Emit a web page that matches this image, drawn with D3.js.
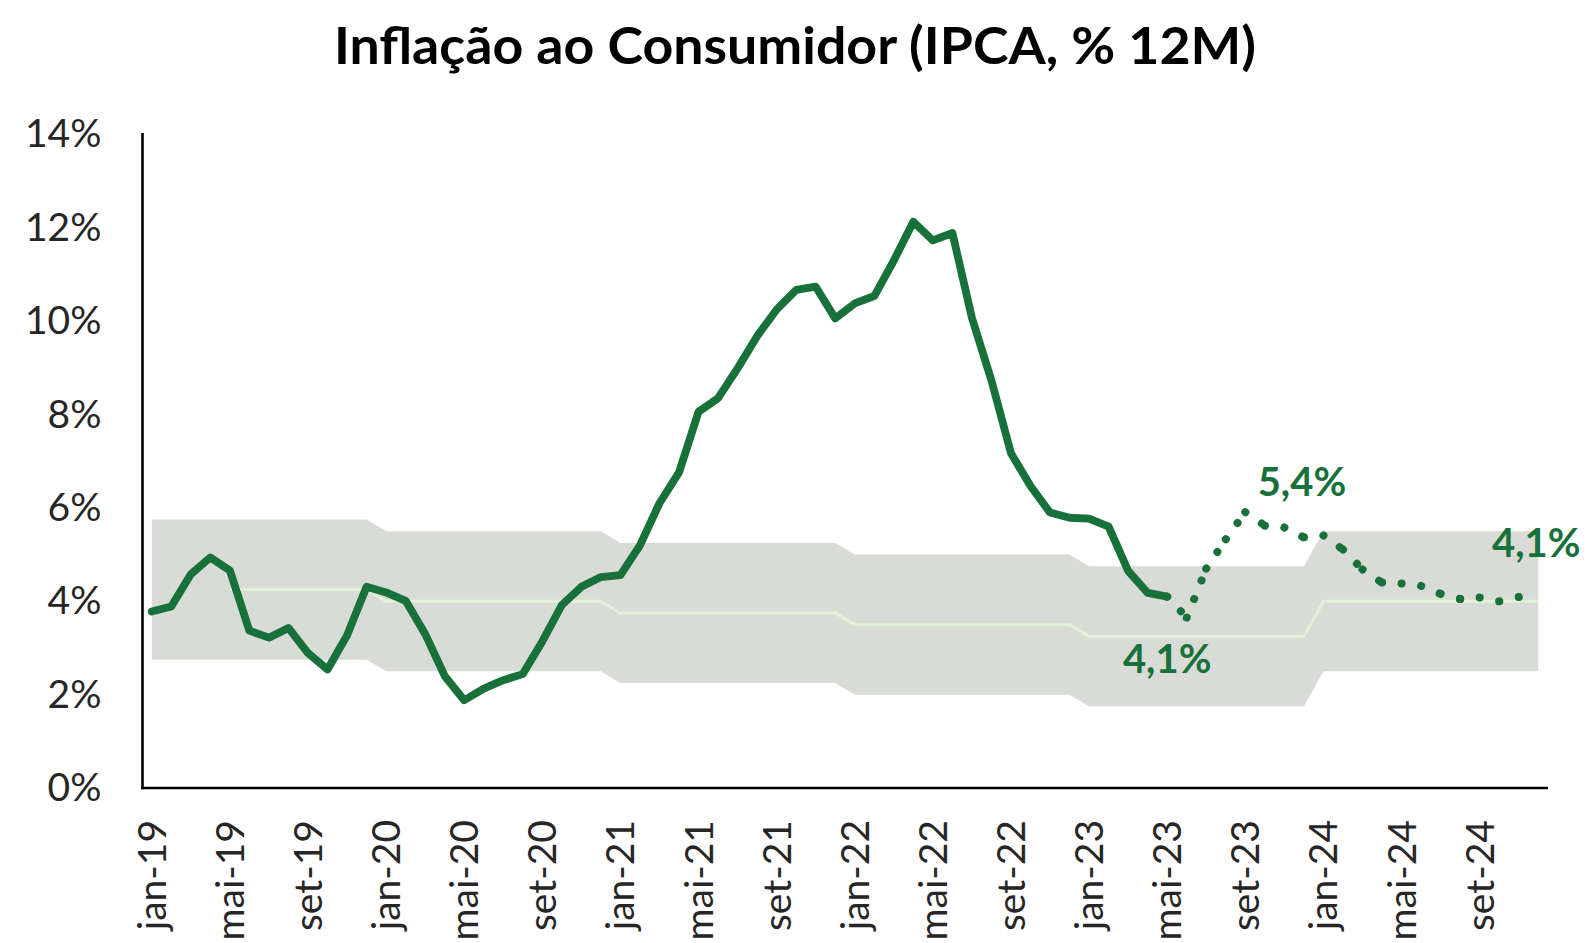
<!DOCTYPE html>
<html>
<head>
<meta charset="utf-8">
<script src="https://cdn.jsdelivr.net/npm/d3@7"></script>
<style>
  body { margin: 0; background: #ffffff; }
  svg { display: block; font-family: Lato, "Noto Sans", sans-serif; }
</style>
</head>
<body>
<div class="grafico"></div>
<script>
// Meses e anos usados no eixo x
var meses = ["jan", "fev", "mar", "abr", "mai", "jun", "jul", "ago", "set", "out", "nov", "dez"];
var anos = ["19", "20", "21", "22", "23", "24"];

// IPCA acumulado em 12 meses (%) - realizado, de jan-19 a mai-23
var ipcaRealizado = [
  3.78, 3.89, 4.58, 4.94, 4.66, 3.37, 3.22, 3.43, 2.89, 2.54, 3.27, 4.31,
  4.19, 4.01, 3.30, 2.40, 1.88, 2.13, 2.31, 2.44, 3.14, 3.92, 4.31, 4.52,
  4.56, 5.20, 6.10, 6.76, 8.06, 8.35, 8.99, 9.68, 10.25, 10.67, 10.74, 10.06,
  10.38, 10.54, 11.30, 12.13, 11.73, 11.89, 10.07, 8.73, 7.17, 6.47, 5.90, 5.79,
  5.77, 5.60, 4.65, 4.18, 4.10
];

// Projecao, de mai-23 a dez-24
var ipcaProjecao = [
  4.10, 3.65, 4.70, 5.33, 5.91, 5.62, 5.58, 5.37,
  5.41, 5.11, 4.68, 4.40, 4.38, 4.33, 4.16, 4.05, 4.08, 4.00, 4.09, 4.12
];
var inicioProjecao = "mai-23";

// Centro da meta por ano (2019 a 2024) e intervalo de tolerancia
var metaCentro = [4.25, 4.0, 3.75, 3.5, 3.25, 4.0];
var tolerancia = 1.5;
var inicioMeta = "mai-19";

// Rotulos de destaque
var destaques = [
  { mes: "mai-23", valor: 4.1, texto: "4,1%", pos: "baixo" },
  { mes: "dez-23", valor: 5.4, texto: "5,4%", pos: "cima" },
  { mes: "dez-24", valor: 4.1, texto: "4,1%", pos: "cima" }
];

var yTicks = [0, 2, 4, 6, 8, 10, 12, 14];

var w = 1588,
    h = 943;
var verde = "#18703a";

var categorias = [];
anos.forEach(function (a) {
  meses.forEach(function (m) { categorias.push(m + "-" + a); });
});

var svg = d3.select(".grafico")
  .append("svg")
  .attr("width", w)
  .attr("height", h);

var x = d3.scaleBand()
  .domain(categorias)
  .range([142, 1548])
  .paddingInner(0)
  .paddingOuter(0);
var cx = function (c) { return x(c) + x.bandwidth() / 2; };

var y = d3.scaleLinear()
  .domain([0, 14])
  .range([788, 134.5]);

// Faixa da meta (banda cinza)
var dadosMeta = categorias.map(function (c, i) {
  var centro = metaCentro[Math.floor(i / 12)];
  return { mes: c, centro: centro, lo: centro - tolerancia, hi: centro + tolerancia };
});

var area = d3.area()
  .x(function (d) { return cx(d.mes); })
  .y0(function (d) { return y(d.lo); })
  .y1(function (d) { return y(d.hi); });

svg.append("path")
  .datum(dadosMeta)
  .attr("d", area)
  .attr("fill", "#d9dbd7");

// Linha do centro da meta
var linhaMeta = d3.line()
  .x(function (d) { return cx(d.mes); })
  .y(function (d) { return y(d.centro); });

svg.append("path")
  .datum(dadosMeta.slice(categorias.indexOf(inicioMeta)))
  .attr("d", linhaMeta)
  .attr("fill", "none")
  .attr("stroke", "#e3f1d8")
  .attr("stroke-width", 3);

// Eixos
var eixoY = svg.append("g")
  .attr("transform", "translate(142.5,0)")
  .call(d3.axisLeft(y).tickValues(yTicks).tickSize(0).tickSizeOuter(0).tickPadding(41)
    .tickFormat(function (d) { return d + "%"; }));

var eixoX = svg.append("g")
  .attr("transform", "translate(0,788)")
  .call(d3.axisBottom(x)
    .tickValues(categorias.filter(function (c, i) { return i % 4 === 0; }))
    .tickSize(0).tickSizeOuter(0));

eixoX.selectAll("text")
  .attr("transform", "rotate(-90)")
  .attr("text-anchor", "end")
  .attr("x", -32)
  .attr("y", 0)
  .attr("dy", "0.36em");

[eixoY, eixoX].forEach(function (g) {
  g.select(".domain").attr("stroke", "#000000").attr("stroke-width", 2.6);
  g.selectAll("text")
    .attr("fill", "#262626")
    .style("font-family", "Lato, 'Noto Sans', sans-serif")
    .style("font-size", "39px");
});
eixoX.select(".domain").attr("d", "M141.2,0H1548");
eixoY.select(".domain").attr("d", "M0,133V789.3");

// Linha do IPCA realizado
var linha = d3.line()
  .x(function (d) { return cx(d.mes); })
  .y(function (d) { return y(d.valor); });

var realizado = ipcaRealizado.map(function (v, i) { return { mes: categorias[i], valor: v }; });

svg.append("path")
  .datum(realizado)
  .attr("d", linha)
  .attr("fill", "none")
  .attr("stroke", verde)
  .attr("stroke-width", 7.8)
  .attr("stroke-linejoin", "round")
  .attr("stroke-linecap", "round");

// Projecao pontilhada: cada trecho e desenhado separado (o padrao recomeca em cada mes)
var i0 = categorias.indexOf(inicioProjecao);
var projecao = ipcaProjecao.map(function (v, i) { return { mes: categorias[i0 + i], valor: v }; });

svg.append("g")
  .selectAll("path")
  .data(d3.pairs(projecao))
  .join("path")
  .attr("d", function (p) { return linha(p); })
  .attr("fill", "none")
  .attr("stroke", verde)
  .attr("stroke-width", 8)
  .attr("stroke-linecap", "round")
  .attr("stroke-dasharray", "0.1 19.9");

// Rotulos de destaque
svg.append("g")
  .selectAll("text")
  .data(destaques)
  .join("text")
  .attr("x", function (d) { return cx(d.mes) + (d.pos === "baixo" ? 0 : -2); })
  .attr("y", function (d) { return y(d.valor) + (d.pos === "baixo" ? 76 : -40); })
  .attr("text-anchor", "middle")
  .attr("fill", verde)
  .style("font-weight", "bold")
  .style("font-size", "40px")
  .text(function (d) { return d.texto; });

// Titulo
svg.append("text")
  .attr("x", 795)
  .attr("y", 64)
  .attr("text-anchor", "middle")
  .attr("fill", "#000000")
  .attr("textLength", 922)
  .attr("lengthAdjust", "spacingAndGlyphs")
  .style("font-weight", "bold")
  .style("font-size", "51px")
  .text("Inflação ao Consumidor (IPCA, % 12M)");
</script>
</body>
</html>
